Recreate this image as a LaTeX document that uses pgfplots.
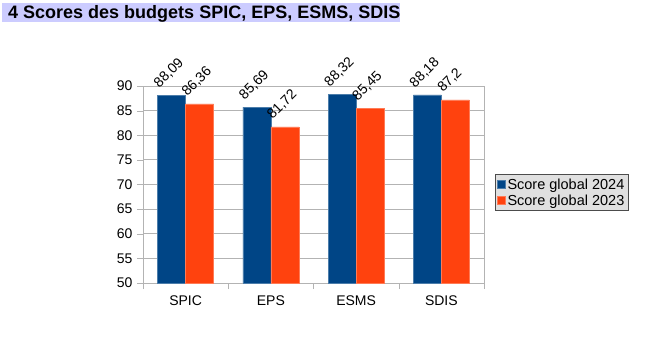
\documentclass[border=0pt]{standalone}
\usepackage{fontspec}
\setmainfont{Liberation Sans}
\usepackage{pgfplots}
\pgfplotsset{compat=1.18}
\definecolor{lblue}{HTML}{004586}
\definecolor{lorange}{HTML}{FF420E}
\definecolor{gridc}{HTML}{B3B3B3}
\definecolor{titlebg}{HTML}{CCCCFF}
\begin{document}
\begin{tikzpicture}[x=1pt,y=1pt]
\path[use as bounding box] (0,0) rectangle (651,-354);
\fill[titlebg] (2,-3) rectangle (400,-22);
\node[anchor=base west,font=\fontsize{18}{20}\selectfont\bfseries,inner sep=0pt] at (8,-18) {4 Scores des budgets SPIC, EPS, ESMS, SDIS};
\begin{axis}[
  at={(143pt,-283pt)}, anchor=south west,
  scale only axis, width=341pt, height=197pt,
  /pgf/number format/assume math mode=true,
  /pgf/number format/use comma,
  ybar=0pt, bar width=28pt,
  xmin=-0.5, xmax=3.5, ymin=50, ymax=90,
  ytick={50,55,...,90},
  xtick={0,1,2,3},
  xticklabels={SPIC,EPS,ESMS,SDIS},
  minor xtick={-0.5,0.5,1.5,2.5,3.5},
  major x tick style={draw=none},
  minor x tick style={draw=gridc},
  y tick style={draw=gridc},
  tick align=outside,
  tick pos=left,
  major tick length=6pt, minor tick length=6pt,
  axis line style={draw=gridc},
  ymajorgrids, grid style={draw=gridc, line width=0.8pt},
  ticklabel style={font=\fontsize{14}{16}\selectfont},
  yticklabel style={xshift=-1pt},
  xticklabel style={yshift=-3pt},
  nodes near coords={\pgfmathprintnumber[fixed,precision=2]{\pgfplotspointmeta}},
  every node near coord/.append style={font=\fontsize{14}{16}\selectfont, xshift=-11pt, yshift=4pt, rotate=45, anchor=south west, inner sep=1pt, text=black},
  legend style={at={(1.032,0.459)}, anchor=west, fill=black!12, draw=black!70, font=\fontsize{14.5}{16}\selectfont, row sep=0pt, inner sep=2pt},
  legend cell align=left,
  legend image code/.code={\fill[#1] (0pt,-4pt) rectangle (8pt,4pt);},
]
\addplot[fill=lblue, draw=lblue!70!white] coordinates {(0,88.09) (1,85.69) (2,88.32) (3,88.18)};
\addplot[fill=lorange, draw=lorange!70!white] coordinates {(0,86.36) (1,81.72) (2,85.45) (3,87.2)};
\legend{Score global 2024, Score global 2023}
\end{axis}
\end{tikzpicture}
\end{document}
